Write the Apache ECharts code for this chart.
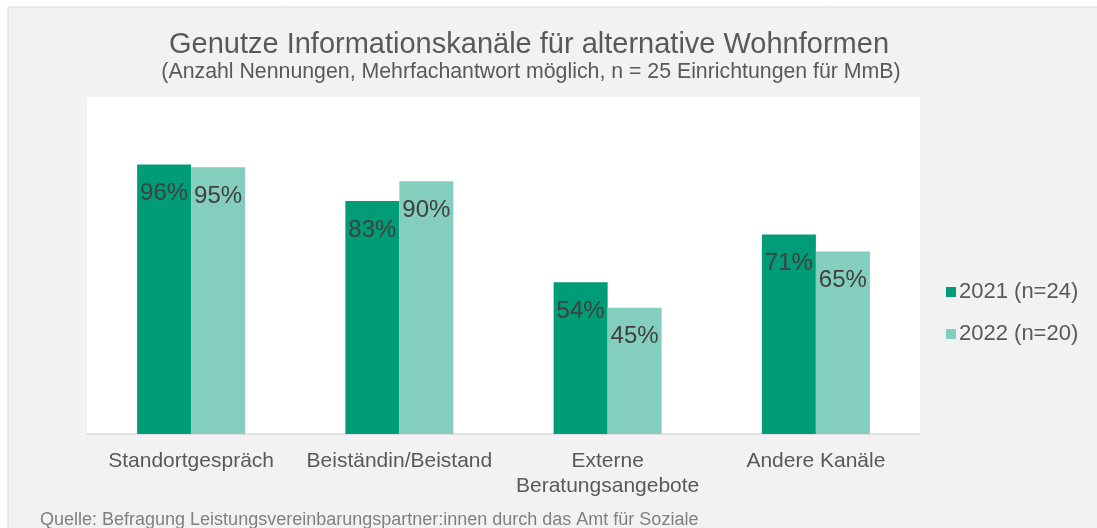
<!DOCTYPE html>
<html>
<head>
<meta charset="utf-8">
<script src="https://cdn.jsdelivr.net/npm/echarts@6/dist/echarts.min.js"></script>
<style>
  html, body { margin: 0; padding: 0; background: #ffffff; }
  #chart { width: 1097px; height: 528px; }
</style>
</head>
<body>
<div id="chart"></div>
<script>
// Daten aus der Grafik
const kategorien = ['Standortgespräch', 'Beiständin/Beistand', 'Externe\nBeratungsangebote', 'Andere Kanäle']
const werte2021 = [96, 83, 54, 71]
const werte2022 = [95, 90, 45, 65]
const serienNamen = ['2021 (n=24)', '2022 (n=20)']

const schrift = 'Liberation Sans, Arial, sans-serif'

const chart = echarts.init(document.getElementById('chart'))

const labelStil = {
  show: true,
  position: 'insideTop',
  distance: 17,
  formatter: '{c}%',
  color: '#404040',
  fontSize: 24,
  fontFamily: schrift
}

chart.setOption({
  backgroundColor: '#ffffff',
  graphic: [
    {
      // grauer Rahmen / Hintergrund
      type: 'rect',
      shape: { x: 8, y: 7, width: 1200, height: 600 },
      style: { fill: '#f2f2f2', stroke: '#d9d9d9', lineWidth: 1 },
      z: -10,
      silent: true
    },
    {
      type: 'text',
      left: 40,
      top: 511,
      style: {
        text: 'Quelle: Befragung Leistungsvereinbarungspartner:innen durch das Amt für Soziale',
        fill: '#808080',
        font: '18px ' + schrift
      }
    }
  ],
  title: [
    {
      text: 'Genutze Informationskanäle für alternative Wohnformen',
      left: 529,
      top: 30,
      textAlign: 'center',
      padding: 0,
      textStyle: { color: '#595959', fontSize: 29, fontWeight: 'normal', fontFamily: schrift }
    },
    {
      text: '(Anzahl Nennungen, Mehrfachantwort möglich, n = 25 Einrichtungen für MmB)',
      left: 531,
      top: 62,
      textAlign: 'center',
      padding: 0,
      textStyle: { color: '#595959', fontSize: 21.3, fontWeight: 'normal', fontFamily: schrift }
    }
  ],
  legend: {
    orient: 'vertical',
    left: 946,
    top: 281,
    icon: 'rect',
    itemWidth: 10,
    itemHeight: 10,
    itemGap: 20,
    padding: 0,
    textStyle: { color: '#595959', fontSize: 22, fontFamily: schrift, padding: [0, 0, 0, -2] },
    data: serienNamen
  },
  grid: {
    left: 87,
    right: 177,
    top: 97,
    bottom: 94,
    show: true,
    backgroundColor: '#ffffff',
    borderWidth: 0
  },
  xAxis: {
    type: 'category',
    data: kategorien,
    axisLine: { lineStyle: { color: '#d9d9d9', width: 1.5 } },
    axisTick: { show: false },
    axisLabel: {
      color: '#595959',
      fontSize: 21,
      lineHeight: 25,
      margin: 15,
      fontFamily: schrift,
      interval: 0
    }
  },
  yAxis: {
    type: 'value',
    min: 0,
    max: 120,
    show: false,
    splitLine: { show: false }
  },
  series: [
    {
      name: serienNamen[0],
      type: 'bar',
      data: werte2021,
      barWidth: 54,
      barGap: '0%',
      itemStyle: { color: '#009b77' },
      label: labelStil
    },
    {
      name: serienNamen[1],
      type: 'bar',
      data: werte2022,
      barWidth: 54,
      itemStyle: { color: '#83cebc' },
      label: labelStil
    }
  ]
})
</script>
</body>
</html>
